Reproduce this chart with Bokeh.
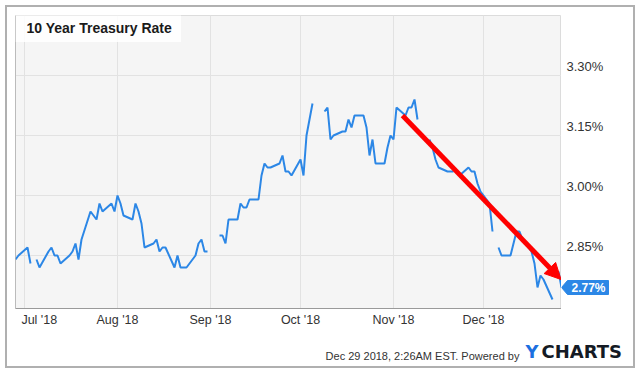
import pandas as pd
from bokeh.plotting import figure
from bokeh.layouts import column, row
from bokeh.models import (Range1d, FixedTicker, Label, ColumnDataSource, Arrow, NormalHead,
                          Span, Grid)
from bokeh.core.properties import value
from bokeh.embed import file_html
from bokeh.resources import INLINE

NaN = float("nan")

# ---- data (10 Year Treasury Rate, business days; NaN = market holiday) ----
rates_jun = [2.84, 2.85]
rates_jul = [2.87, 2.83, NaN, 2.84, 2.82, 2.86, 2.87, 2.85, 2.85, 2.83, 2.85, 2.86, 2.88, 2.84,
             2.89, 2.96, 2.95, 2.94, 2.98, 2.96, 2.98, 2.96]
rates_aug = [3.00, 2.98, 2.95, 2.94, 2.98, 2.96, 2.93, 2.87, 2.88, 2.89, 2.86, 2.87, 2.87, 2.82,
             2.85, 2.82, 2.82, 2.82, 2.85, 2.88, 2.89, 2.86, 2.86]
rates_sep = [NaN, 2.90, 2.90, 2.88, 2.94, 2.94, 2.98, 2.97, 2.97, 2.99, 2.99, 3.05, 3.08, 3.07,
             3.07, 3.08, 3.10, 3.06, 3.06, 3.05]
rates_oct = [3.09, 3.05, 3.15, 3.19, 3.23, NaN, 3.21, 3.22, 3.14, 3.15, 3.16, 3.16, 3.19, 3.17,
             3.20, 3.20, 3.17, 3.10, 3.14, 3.08, 3.08, 3.12, 3.15]
rates_nov = [3.14, 3.22, 3.20, 3.22, 3.22, 3.24, 3.19, NaN, 3.14, 3.12, 3.09, 3.07, 3.06, 3.06,
             3.06, NaN, 3.05, 3.07, 3.06, 3.06, 3.03, 3.01]
rates_dec = [2.98, 2.91, NaN, 2.87, 2.85, 2.85, 2.88, 2.91, 2.91, 2.89, 2.86, 2.83, 2.77, 2.80,
             2.79, 2.74, NaN, 2.81, 2.77]

first_day = "2018-06-28"
last_day = "2018-12-27"

month_starts = ["2018-07-01", "2018-08-01", "2018-09-01", "2018-10-01", "2018-11-01", "2018-12-01"]
month_labels = ["Jul '18", "Aug '18", "Sep '18", "Oct '18", "Nov '18", "Dec '18"]

y_ticks = [2.85, 3.00, 3.15, 3.30]
y_min, y_max = 2.7175, 3.45

arrow_x = ["2018-11-04 00:00", "2018-12-26 20:00"]
arrow_y = [3.20, 2.79]

title_text = "10 Year Treasury Rate"
footer_text = "Dec 29 2018, 2:26AM EST.  Powered by"
logo_parts = ["Y", "CHARTS"]

# ---- build ----
dates = pd.bdate_range(first_day, last_day)
rates = rates_jun + rates_jul + rates_aug + rates_sep + rates_oct + rates_nov + rates_dec
assert len(dates) == len(rates)


def ms(d):
    return int(pd.Timestamp(d).value // 10**6)


x0, x1 = ms(first_day), ms(last_day)

# layout (pixels)
FW, FH = 546, 293          # plot frame
BL, BT, BB = 8, 8, 22      # main figure borders
SIDE_W = 72                # right column width
FOOT_H = 36                # footer height
TOTAL_W = BL + FW + SIDE_W

BLUE = "#2c87e6"
FONT = "Liberation Sans"
GRID = "#e2e2e2"
EDGE = "#9a9a9a"

# ---------------- main plot ----------------
p = figure(width=BL + FW, height=BT + FH + BB,
           x_range=Range1d(x0, x1), y_range=Range1d(y_min, y_max),
           x_axis_type="datetime", x_axis_location="below", y_axis_location=None,
           output_backend="svg", toolbar_location=None,
           min_border_left=BL, min_border_top=BT, min_border_right=0, min_border_bottom=BB,
           background_fill_color="#f5f5f5", border_fill_color="white",
           outline_line_color="#dcdcdc", outline_line_width=1)

for r in list(p.center):
    if isinstance(r, Grid):
        r.visible = False
month_ms = [ms(m) for m in month_starts]
p.add_layout(Grid(dimension=0, ticker=FixedTicker(ticks=month_ms), grid_line_color=GRID))
p.add_layout(Grid(dimension=1, ticker=FixedTicker(ticks=y_ticks), grid_line_color=GRID))

# x axis: month labels (first label nudged right so it stays inside the chart)
xa = p.xaxis[0]
xa.ticker = FixedTicker(ticks=month_ms)
overrides = {}
for i, (m, lab) in enumerate(zip(month_ms, month_labels)):
    overrides[m] = ("\u00a0" * 4 + lab) if i == 0 else lab
xa.major_label_overrides = overrides
xa.axis_line_color = EDGE
xa.major_tick_line_color = None
xa.minor_tick_line_color = None
xa.major_tick_in = 0
xa.major_tick_out = 0
xa.major_label_standoff = 4
xa.major_label_text_font = FONT
xa.major_label_text_font_size = "12.5px"
xa.major_label_text_color = "#333333"

# left/right frame edges
for loc in (x0, x1):
    p.add_layout(Span(location=loc, dimension="height", line_color=EDGE, line_width=1))

# the series
src = ColumnDataSource(dict(x=dates, y=rates))
p.line("x", "y", source=src, line_color=BLUE, line_width=2)

# title with its white box
p.add_layout(Label(x=x0, y=y_max, x_offset=0, y_offset=-12.5, text=title_text,
                   text_baseline="middle", text_align="left", text_font=FONT,
                   text_font_size="14px", text_font_style="bold", text_color="#1a1a1a",
                   background_fill_color="white", background_fill_alpha=0.85,
                   padding=dict(left=11, right=9, top=6, bottom=6)))

# red trend arrow
p.add_layout(Arrow(x_start=ms(arrow_x[0]), y_start=arrow_y[0], x_end=ms(arrow_x[1]), y_end=arrow_y[1],
                   line_color="#ff0000", line_width=5,
                   end=NormalHead(size=16, fill_color="#ff0000", line_color="#ff0000")))

# ---------------- right column: value labels + last value badge ----------------
s = figure(width=SIDE_W, height=BT + FH + BB, x_range=Range1d(0, SIDE_W), y_range=p.y_range,
           x_axis_location=None, y_axis_location=None,
           output_backend="svg", toolbar_location=None,
           min_border_left=0, min_border_right=0, min_border_top=BT, min_border_bottom=BB,
           background_fill_color="white", border_fill_color="white", outline_line_color=None)
s.grid.visible = False

ysrc = ColumnDataSource(dict(x=[5] * len(y_ticks), y=y_ticks,
                             t=[f"{v:.2f}%" for v in y_ticks]))
s.text("x", "y", text="t", source=ysrc, y_offset=-9.5, text_align="left",
       text_baseline="middle", text_font=value(FONT), text_font_size="13px",
       text_color="#333333")

last_v = rates[-1]
pxy = (y_max - y_min) / FH
s.patch([0, 6, 47, 47, 6],
        [last_v, last_v + 7 * pxy, last_v + 7 * pxy, last_v - 7 * pxy, last_v - 7 * pxy],
        fill_color=BLUE, line_color=BLUE, line_width=1)
bsrc = ColumnDataSource(dict(x=[10], y=[last_v], t=[f"{last_v:.2f}%"]))
s.text("x", "y", text="t", source=bsrc, text_align="left", text_baseline="middle",
       text_font=value(FONT), text_font_size="12px", text_font_style="bold",
       text_color="white")

# ---------------- footer ----------------
f = figure(width=TOTAL_W, height=FOOT_H, x_range=Range1d(0, TOTAL_W), y_range=Range1d(0, FOOT_H),
           x_axis_location=None, y_axis_location=None,
           output_backend="svg", toolbar_location=None, min_border=0,
           background_fill_color="white", border_fill_color="white", outline_line_color=None)
f.grid.visible = False
fsrc = ColumnDataSource(dict(x=[515], y=[11], t=[footer_text]))
f.text("x", "y", text="t", source=fsrc, text_align="right", text_baseline="middle",
       text_font=value(FONT), text_font_size="11px", text_color="#333333")
lsrc = ColumnDataSource(dict(x=[518, 534], y=[15, 15], t=logo_parts, c=["#1c6fe0", "#141a24"]))
f.text("x", "y", text="t", source=lsrc, text_align="left", text_baseline="middle",
       text_font=value("DejaVu Sans"), text_font_size="18px", text_font_style="bold",
       text_color="c")

layout = column(row(p, s), f,
                styles={"border": "2px solid #b0b0b0", "margin-left": "5px", "margin-top": "5px"})

open("out.html", "w").write(file_html(layout, INLINE))
